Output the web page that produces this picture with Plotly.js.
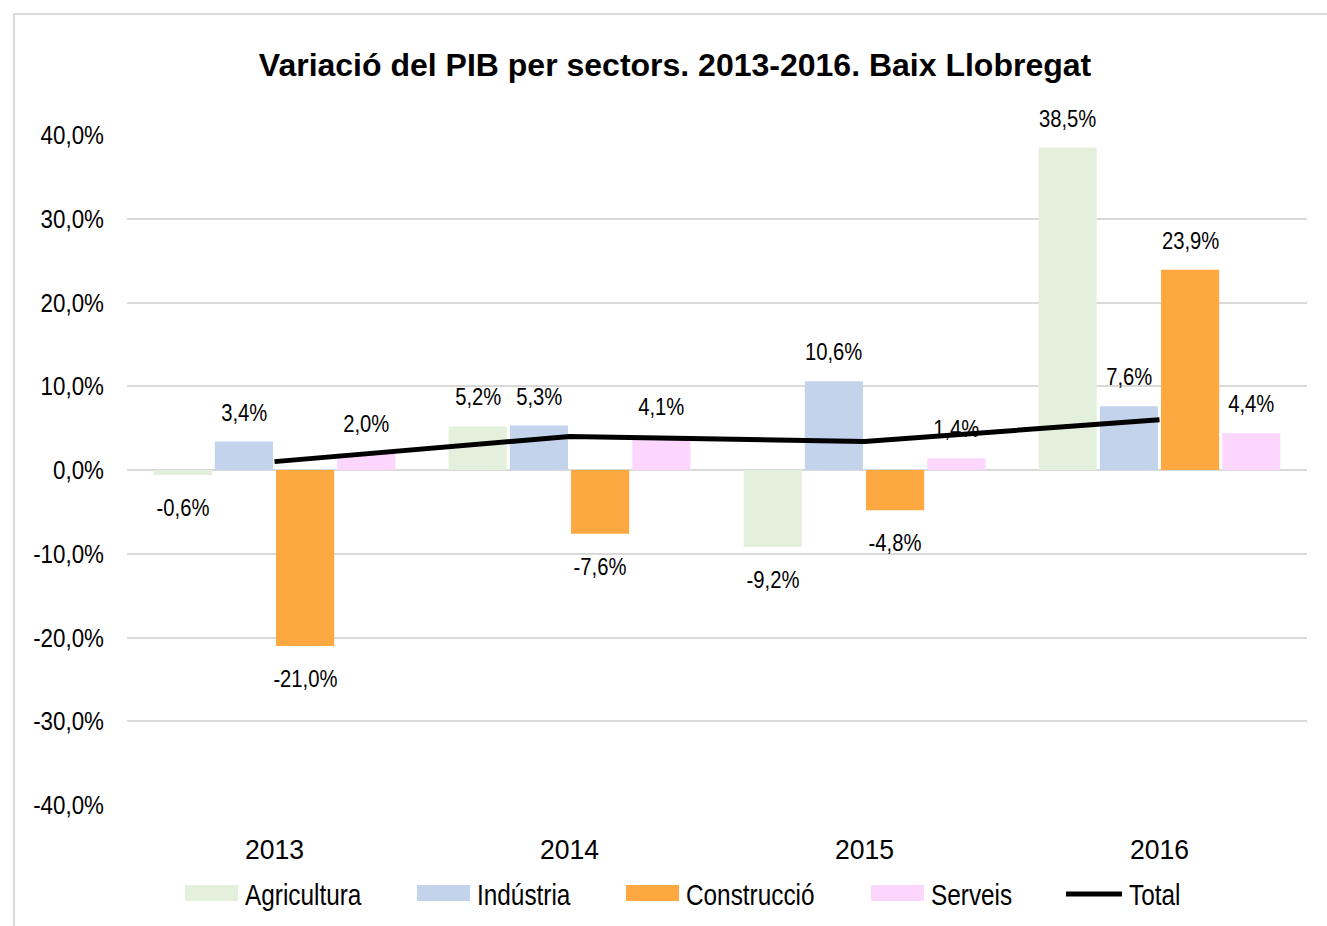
<!DOCTYPE html>
<html>
<head>
<meta charset="utf-8">
<script src="https://cdn.plot.ly/plotly-3.0.1.min.js"></script>
<style>
  html, body { margin: 0; padding: 0; background: #fff; }
  #chart { position: absolute; left: 0; top: 0; width: 1327px; height: 926px; }
  #frame { position: absolute; left: 13px; top: 13px; width: 1400px; height: 1000px;
           border: 2px solid #d9d9d9; pointer-events: none; box-sizing: border-box; }
</style>
</head>
<body>
<div id="chart"></div>
<div id="frame"></div>
<script>
const years = ['2013', '2014', '2015', '2016'];
const agricultura = [-0.6, 5.2, -9.2, 38.5];
const industria = [3.4, 5.3, 10.6, 7.6];
const construccio = [-21.0, -7.6, -4.8, 23.9];
const serveis = [2.0, 4.1, 1.4, 4.4];
const total = [1.0, 4.0, 3.4, 6.0];
const seriesNames = ['Agricultura', 'Indústria', 'Construcció', 'Serveis'];
const lineName = 'Total';
const yTicks = [-40, -30, -20, -10, 0, 10, 20, 30, 40];

const colors = ['#e3f0dc', '#c2d3eb', '#fda840', '#fcd6fc'];
const FONT = '"Liberation Sans", Arial, sans-serif';
const BARGAP = 0.17, GROUPGAP = 0.05;

// plot area geometry (pixels) used for converting the legend layout to paper coords
const M = { l: 127, r: 20, t: 135, b: 121 };
const W = 1327, H = 926;
const PW = W - M.l - M.r, PH = H - M.t - M.b;
const px2x = px => (px - M.l) / PW;
const py2y = py => 1 - (py - M.t) / PH;

const seriesData = [agricultura, industria, construccio, serveis];
const fmt = v => v.toFixed(1).replace('.', ',') + '%';

const traces = seriesData.map((vals, k) => ({
  type: 'bar', name: seriesNames[k], x: years, y: vals,
  marker: { color: colors[k] }, hoverinfo: 'skip', showlegend: false
}));
traces.push({
  type: 'scatter', mode: 'lines', name: lineName, x: years, y: total,
  line: { color: '#000000', width: 5 }, hoverinfo: 'skip', showlegend: false
});

// data labels
const annotations = [];
const slot = (1 - BARGAP) / seriesData.length;
seriesData.forEach((vals, k) => {
  vals.forEach((v, i) => {
    annotations.push({
      x: i - (1 - BARGAP) / 2 + slot * (k + 0.5), xref: 'x',
      y: v, yref: 'y', text: fmt(v), showarrow: false,
      yanchor: 'middle', yshift: v >= 0 ? 29 : -33,
      font: { family: FONT, size: 23, color: '#000' }
    });
  });
});
const nDataLabels = annotations.length;

// custom legend (wide swatches like the original)
const legendLeft = [185, 417, 626, 871, 1066];
const swatchW = 53, swatchTop = 885, swatchBot = 901, legendMid = 894, textGap = 6;
const shapes = [];
seriesNames.forEach((name, k) => {
  shapes.push({
    type: 'rect', xref: 'paper', yref: 'paper', layer: 'above',
    x0: px2x(legendLeft[k]), x1: px2x(legendLeft[k] + swatchW),
    y0: py2y(swatchBot), y1: py2y(swatchTop),
    fillcolor: colors[k], line: { width: 0 }
  });
});
shapes.push({
  type: 'line', xref: 'paper', yref: 'paper', layer: 'above',
  x0: px2x(legendLeft[4]), x1: px2x(legendLeft[4] + 56),
  y0: py2y(legendMid), y1: py2y(legendMid),
  line: { color: '#000', width: 5 }
});
seriesNames.concat([lineName]).forEach((name, k) => {
  const w = k === 4 ? 56 : swatchW;
  annotations.push({
    xref: 'paper', yref: 'paper', x: px2x(legendLeft[k] + w + textGap), y: py2y(legendMid + 1),
    xanchor: 'left', yanchor: 'middle', align: 'left', showarrow: false,
    borderpad: 0, text: name, font: { family: FONT, size: 29, color: '#000' }
  });
});

const layout = {
  width: W, height: H,
  paper_bgcolor: '#ffffff', plot_bgcolor: '#ffffff',
  margin: M,
  title: {
    text: 'Variació del PIB per sectors. 2013-2016. Baix Llobregat',
    font: { family: FONT, size: 32, color: '#000', weight: 'bold' },
    x: 675 / W, xanchor: 'center', xref: 'container', y: 0.93, yanchor: 'middle'
  },
  barmode: 'group', bargap: BARGAP, bargroupgap: GROUPGAP,
  showlegend: false,
  xaxis: {
    type: 'category', showgrid: false, showline: false, zeroline: false,
    ticks: '', ticklabelstandoff: 25,
    tickfont: { family: FONT, size: 28, color: '#000' }
  },
  yaxis: {
    range: [-40, 40], tickmode: 'array', tickvals: yTicks, ticktext: yTicks.map(fmt),
    showgrid: true, gridcolor: '#d9d9d9', gridwidth: 2,
    zeroline: true, zerolinecolor: '#d9d9d9', zerolinewidth: 2,
    showline: false, ticks: '', ticklabelstandoff: 22,
    tickfont: { family: FONT, size: 26, color: '#000' }
  },
  shapes: shapes,
  annotations: annotations
};

// the original uses a condensed typeface: narrow the glyphs around their anchor point
function condense(el, s) {
  const ax = parseFloat(el.getAttribute('x')) || 0;
  const tr = el.getAttribute('transform') || '';
  el.setAttribute('transform', tr + ' translate(' + ax + ',0) scale(' + s + ',1) translate(' + (-ax) + ',0)');
}

Plotly.newPlot('chart', traces, layout, { displayModeBar: false, staticPlot: true }).then(gd => {
  gd.querySelectorAll('.ytick text').forEach(t => condense(t, 0.86));
  gd.querySelectorAll('.xtick text').forEach(t => condense(t, 0.95));
  gd.querySelectorAll('g.annotation').forEach(g => {
    const idx = parseInt(g.getAttribute('data-index'), 10);
    const t = g.querySelector('text.annotation-text');
    if (t) condense(t, idx < nDataLabels ? 0.88 : 0.84);
  });
});
</script>
</body>
</html>
